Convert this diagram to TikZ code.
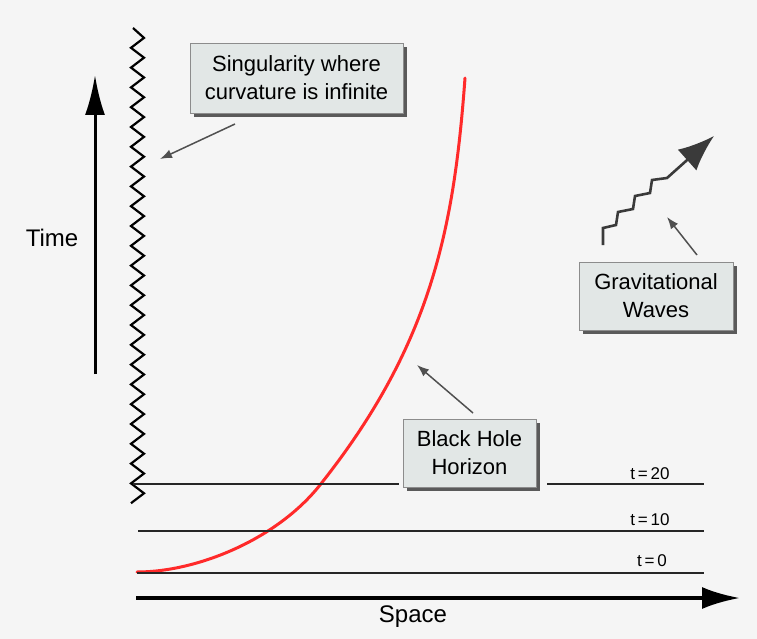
\documentclass[tikz,border=0pt]{standalone}
\usepackage{fontspec}
\setmainfont{Liberation Sans}
\usetikzlibrary{arrows.meta,shadows}
\definecolor{bg}{HTML}{F5F5F5}
\definecolor{boxfill}{HTML}{E2E7E6}
\definecolor{boxline}{HTML}{8C8C8C}
\definecolor{shadowc}{HTML}{5A5A5A}
\definecolor{annot}{HTML}{505050}
\definecolor{wavec}{HTML}{3A3A3A}
\definecolor{curvec}{HTML}{FF2A2A}
\begin{document}
\begin{tikzpicture}[x=1pt,y=-1pt,
  axislbl/.style={font=\fontsize{24}{28}\selectfont, inner sep=0},
  infobox/.style={draw=boxline, fill=boxfill, line width=0.8, inner sep=0,
    align=center, font=\fontsize{22}{28}\selectfont,
    drop shadow={shadow xshift=4pt, shadow yshift=-4pt, fill=shadowc, opacity=1}},
  note/.style={draw=annot, line width=1.5, -{Latex[length=12pt,width=9pt]}},
  tline/.style={draw=black!85, line width=1.2},
  tlab/.style={font=\fontsize{17}{20}\selectfont, inner sep=0}]
\useasboundingbox (0,0) rectangle (757,639);
\fill[bg] (0,0) rectangle (757,639);

% singularity zigzag
\draw[line width=2.2, line join=miter] (133,28)
  foreach \k in {0,...,23} { -- (144,{37.9+19.8*\k}) -- (131,{47.8+19.8*\k}) };

% time axis
\coordinate (tb) at (95,374);
\coordinate (tt) at (95,75);
\draw[line width=3, -{Latex[length=40pt,width=20pt]}] (tb) -- (tt);
\node[axislbl] (time) at (52,238) {Time};

% space axis
\coordinate (sb) at (136,598);
\coordinate (se) at (740,598);
\draw[line width=4, -{Latex[length=38pt,width=22pt]}] (sb) -- (se);
\node[axislbl] (space) at (413,617) {Space};

% horizon curve
\coordinate (c0) at (137,572);
\coordinate (c1) at (320,485);
\coordinate (c2) at (465,78);
\draw[curvec, line width=3, line cap=round]
  (c0) .. controls (197,572) and (276.6,539.6) .. (c1)
       .. controls (431.6,344.6) and (454,228) .. (c2);

% time slices
\coordinate (a20) at (133,484); \coordinate (b20) at (399,484);
\coordinate (c20) at (547,484); \coordinate (d20) at (704,484);
\coordinate (a10) at (138,531); \coordinate (b10) at (704,531);
\coordinate (a0) at (137,573); \coordinate (b0) at (704,573);
\draw[tline] (a20) -- (b20);
\draw[tline] (c20) -- (d20);
\draw[tline] (a10) -- (b10);
\draw[tline] (a0) -- (b0);
\node[tlab] (t20) at (650,474) {t\,=\,20};
\node[tlab] (t10) at (650,520) {t\,=\,10};
\node[tlab] (t0) at (652,561) {t\,=\,0};

% boxes
\node[infobox, minimum width=213pt, minimum height=70pt] (sing) at (296.5,78)
  {Singularity where\\curvature is infinite};
\node[infobox, minimum width=154pt, minimum height=68pt] (grav) at (656,296)
  {Gravitational\\Waves};
\node[infobox, minimum width=133pt, minimum height=68pt] (bh) at (469.5,453)
  {Black Hole\\Horizon};

% annotation arrows
\coordinate (s1) at (235,124); \coordinate (s2) at (160,159);
\draw[note] (s1) -- (s2);
\coordinate (g1) at (697,255); \coordinate (g2) at (667,217);
\draw[note] (g1) -- (g2);
\coordinate (h1) at (473,413); \coordinate (h2) at (417,365);
\draw[note] (h1) -- (h2);

% gravitational wave
\coordinate (w0) at (603,245);
\coordinate (w9) at (714,136);
\draw[wavec, line width=2.6, line join=miter, -{Latex[length=36pt,width=28pt]}]
  (w0) -- (603,228) -- (616,225) -- (618,212) -- (633,209) -- (635,196)
  -- (650,193) -- (652,180) -- (667,178) -- (w9);
\end{tikzpicture}
\end{document}
